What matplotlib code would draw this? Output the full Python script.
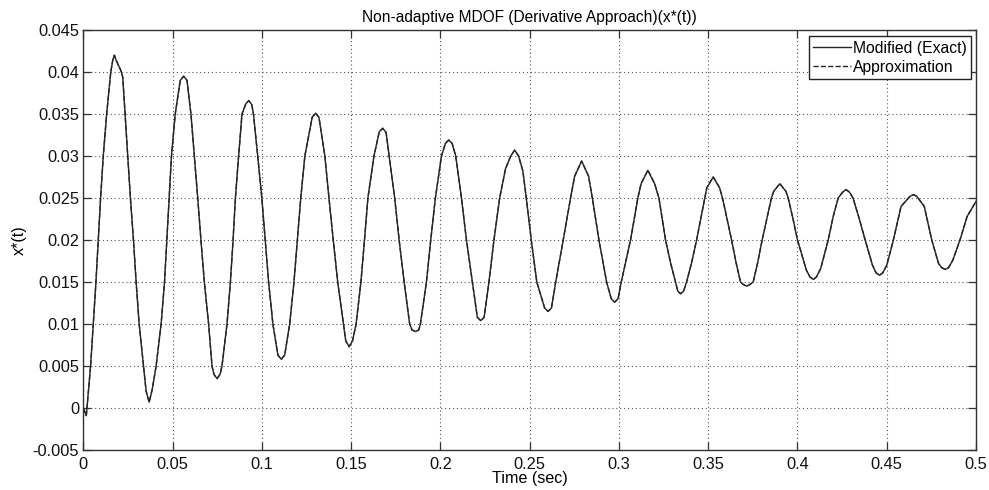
#!/usr/bin/env python3

import matplotlib
matplotlib.use('Agg')
import matplotlib.pyplot as plt

# values (time in s, x*(t))
time_s = [
    0.0000, 0.0017, 0.0041, 0.0056, 0.0071, 0.0084, 0.0097, 0.0112, 0.0131, 0.0154,
    0.0166, 0.0174, 0.0184, 0.0197, 0.0210, 0.0221, 0.0234, 0.0249, 0.0264, 0.0281,
    0.0296, 0.0313, 0.0337, 0.0352, 0.0369, 0.0386, 0.0408, 0.0436, 0.0455, 0.0468,
    0.0481, 0.0494, 0.0515, 0.0543, 0.0562, 0.0581, 0.0603, 0.0622, 0.0641, 0.0659,
    0.0678, 0.0702, 0.0721, 0.0732, 0.0749, 0.0766, 0.0777, 0.0805, 0.0824, 0.0839,
    0.0852, 0.0870, 0.0889, 0.0910, 0.0927, 0.0944, 0.0953, 0.0977, 0.1000, 0.1019,
    0.1038, 0.1062, 0.1090, 0.1109, 0.1128, 0.1156, 0.1180, 0.1199, 0.1218, 0.1241,
    0.1282, 0.1301, 0.1320, 0.1353, 0.1376, 0.1400, 0.1425, 0.1457, 0.1470, 0.1489,
    0.1508, 0.1528, 0.1555, 0.1575, 0.1594, 0.1628, 0.1658, 0.1677, 0.1696, 0.1713,
    0.1744, 0.1769, 0.1797, 0.1828, 0.1841, 0.1860, 0.1879, 0.1888, 0.1922, 0.1946,
    0.1972, 0.2006, 0.2028, 0.2047, 0.2066, 0.2086, 0.2118, 0.2146, 0.2179, 0.2207,
    0.2226, 0.2245, 0.2272, 0.2300, 0.2332, 0.2365, 0.2394, 0.2416, 0.2438, 0.2462,
    0.2481, 0.2509, 0.2540, 0.2584, 0.2603, 0.2622, 0.2646, 0.2688, 0.2729, 0.2752,
    0.2791, 0.2830, 0.2851, 0.2888, 0.2931, 0.2957, 0.2976, 0.2995, 0.3013, 0.3065,
    0.3106, 0.3124, 0.3162, 0.3200, 0.3224, 0.3261, 0.3290, 0.3317, 0.3330, 0.3345,
    0.3362, 0.3379, 0.3407, 0.3435, 0.3481, 0.3492, 0.3528, 0.3564, 0.3580, 0.3631,
    0.3656, 0.3681, 0.3697, 0.3715, 0.3733, 0.3752, 0.3777, 0.3802, 0.3854, 0.3867,
    0.3901, 0.3935, 0.3948, 0.3974, 0.4000, 0.4050, 0.4070, 0.4088, 0.4106, 0.4130,
    0.4172, 0.4200, 0.4228, 0.4253, 0.4272, 0.4291, 0.4311, 0.4345, 0.4379, 0.4420,
    0.4440, 0.4459, 0.4478, 0.4500, 0.4537, 0.4580, 0.4630, 0.4649, 0.4668, 0.4710,
    0.4752, 0.4790, 0.4808, 0.4827, 0.4846, 0.4870, 0.4910, 0.4950, 0.5000,
]
x_exact = [
    0.0000, -0.0009, 0.0050, 0.0100, 0.0150, 0.0200, 0.0250, 0.0300, 0.0350, 0.0400,
    0.0415, 0.0420, 0.0414, 0.0408, 0.0402, 0.0394, 0.0350, 0.0300, 0.0250, 0.0200,
    0.0150, 0.0100, 0.0050, 0.0020, 0.0007, 0.0022, 0.0050, 0.0100, 0.0150, 0.0200,
    0.0250, 0.0300, 0.0350, 0.0390, 0.0395, 0.0390, 0.0350, 0.0300, 0.0250, 0.0200,
    0.0150, 0.0100, 0.0050, 0.0040, 0.0035, 0.0040, 0.0050, 0.0100, 0.0150, 0.0200,
    0.0250, 0.0300, 0.0350, 0.0362, 0.0366, 0.0361, 0.0350, 0.0300, 0.0250, 0.0200,
    0.0150, 0.0100, 0.0063, 0.0058, 0.0063, 0.0100, 0.0150, 0.0200, 0.0250, 0.0300,
    0.0346, 0.0351, 0.0346, 0.0300, 0.0250, 0.0200, 0.0150, 0.0100, 0.0080, 0.0073,
    0.0080, 0.0100, 0.0150, 0.0200, 0.0250, 0.0300, 0.0329, 0.0333, 0.0328, 0.0300,
    0.0250, 0.0200, 0.0150, 0.0100, 0.0093, 0.0091, 0.0093, 0.0100, 0.0150, 0.0200,
    0.0250, 0.0300, 0.0315, 0.0319, 0.0315, 0.0300, 0.0250, 0.0200, 0.0150, 0.0108,
    0.0104, 0.0108, 0.0150, 0.0200, 0.0250, 0.0285, 0.0300, 0.0307, 0.0300, 0.0282,
    0.0250, 0.0200, 0.0150, 0.0119, 0.0115, 0.0119, 0.0150, 0.0200, 0.0250, 0.0276,
    0.0294, 0.0276, 0.0250, 0.0200, 0.0150, 0.0130, 0.0126, 0.0130, 0.0150, 0.0200,
    0.0250, 0.0267, 0.0283, 0.0267, 0.0250, 0.0200, 0.0172, 0.0150, 0.0139, 0.0136,
    0.0139, 0.0150, 0.0173, 0.0200, 0.0250, 0.0262, 0.0275, 0.0262, 0.0250, 0.0200,
    0.0173, 0.0150, 0.0147, 0.0145, 0.0147, 0.0150, 0.0173, 0.0200, 0.0250, 0.0258,
    0.0267, 0.0258, 0.0250, 0.0226, 0.0200, 0.0164, 0.0156, 0.0153, 0.0156, 0.0166,
    0.0200, 0.0228, 0.0250, 0.0257, 0.0260, 0.0257, 0.0250, 0.0226, 0.0200, 0.0170,
    0.0161, 0.0158, 0.0161, 0.0170, 0.0200, 0.0240, 0.0252, 0.0254, 0.0252, 0.0240,
    0.0200, 0.0172, 0.0167, 0.0165, 0.0167, 0.0176, 0.0200, 0.0228, 0.0246,
]
# approximation lies on top of the exact curve in the reference
x_approx = list(x_exact)

x_ticks = [0, 0.05, 0.1, 0.15, 0.2, 0.25, 0.3, 0.35, 0.4, 0.45, 0.5]
y_ticks = [-0.005, 0, 0.005, 0.01, 0.015, 0.02, 0.025, 0.03, 0.035, 0.04, 0.045]


if __name__ == "__main__":
    plt.rcParams['font.family'] = ['Liberation Sans', 'DejaVu Sans']

    fig = plt.figure(figsize = (9.89, 4.90), dpi = 100)
    ax = fig.add_axes([0.0842, 0.0816, 0.9027, 0.8572])

    ax.plot(time_s, x_exact, color = '#262626', linewidth = 1.0,
            linestyle = '-', solid_joinstyle = 'round', label = 'Modified (Exact)')
    ax.plot(time_s, x_approx, color = '#262626', linewidth = 1.0,
            linestyle = '--', label = 'Approximation')

    ax.set_xlim(0, 0.5)
    ax.set_ylim(-0.005, 0.045)
    ax.set_xticks(x_ticks)
    ax.set_yticks(y_ticks)
    ax.set_xticklabels(['%g' % v for v in x_ticks])
    ax.set_yticklabels(['%g' % v for v in y_ticks])

    ax.tick_params(direction = 'in', length = 5.5, width = 0.9, colors = '#333333',
                   labelcolor = '#111111', labelsize = 11.8, top = True, right = True)
    ax.tick_params(axis = 'y', pad = 3)
    ax.tick_params(axis = 'x', pad = 5)
    for sp in ax.spines.values():
        sp.set_color('#333333')
        sp.set_linewidth(1.0)

    ax.grid(True, color = '#555555', linestyle = (0, (1, 2.5)), linewidth = 0.8)

    ax.set_title('Non-adaptive MDOF (Derivative Approach)(x*(t))',
                 fontsize = 11.2, pad = 6)
    ax.set_xlabel('Time (sec)', fontsize = 11.6, labelpad = -1)
    ax.set_ylabel('x*(t)', fontsize = 11.6, labelpad = 4)

    leg = ax.legend(loc = 'upper right', bbox_to_anchor = (0.9944, 0.9857),
                    borderaxespad = 0, fontsize = 11.3, fancybox = False,
                    framealpha = 1, edgecolor = '#222222', handlelength = 2.4,
                    handletextpad = 0.1, labelspacing = 0.25, borderpad = 0.3)
    leg.get_frame().set_linewidth(1.0)

    plt.savefig("out.png", dpi = 100)
